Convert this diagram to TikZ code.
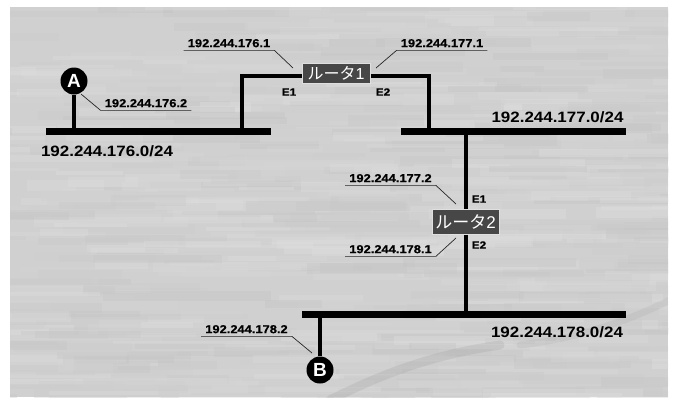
\documentclass[tikz,border=0pt]{standalone}
\usepackage{fontspec}
\newfontfamily\labfont[FakeStretch=1.13]{Liberation Sans Bold}
\newfontfamily\iplabfont[FakeStretch=1.12,FakeBold=0.6]{Liberation Sans Bold}
\newfontfamily\jpfont{Noto Sans CJK JP}
\newfontfamily\digfont{Liberation Sans}
\newfontfamily\hostfont{Liberation Sans Bold}
\definecolor{bgbase}{HTML}{D0D0D0}
\definecolor{boxgrey}{HTML}{474747}
\tikzset{
  bus/.style={line width=7pt},
  wire/.style={line width=4pt},
  leader/.style={line width=0.7pt, black!85},
  iplbl/.style={font=\iplabfont\fontsize{11.5}{12}\selectfont,
    inner xsep=4pt, inner ysep=3pt, text height=8.3pt, text depth=0pt},
  netlbl/.style={font=\labfont\fontsize{15}{16}\selectfont, inner sep=0pt},
  portlbl/.style={font=\iplabfont\fontsize{10.5}{11}\selectfont, inner sep=0pt},
  router/.style={fill=boxgrey, draw=white!88!black, line width=1pt, text=white,
    minimum width=68pt, minimum height=20pt, inner sep=0pt},
  host/.style={circle, fill=black, text=white, minimum size=27pt, inner sep=0pt,
    font=\hostfont\fontsize{19}{19}\selectfont}
}
\begin{document}
\begin{tikzpicture}[x=1pt,y=-1pt]
\useasboundingbox (0,0) rectangle (674,397);
\fill[white] (0,0) rectangle (674,397);

% streaky grey backdrop
\begin{scope}
  \clip (10,7) rectangle (668,397);
  \fill[bgbase] (10,7) rectangle (668,397);
  \pgfmathsetseed{4217}
  \foreach \i in {1,...,700}{
    \pgfmathsetmacro\sx{-60+rnd*740}
    \pgfmathsetmacro\sy{2+rnd*400}
    \pgfmathsetmacro\sw{40+rnd*140}
    \pgfmathsetmacro\sh{3+rnd*8}
    \pgfmathsetmacro\sg{12+rnd*12}
    \fill[black!\sg, opacity=0.35] (\sx,\sy) rectangle ++(\sw,\sh);
  }
  \draw[black, opacity=0.06, line width=9pt, line cap=round]
    (330,400) .. controls (380,375) and (430,355) .. (500,345);
  \draw[black, opacity=0.04, line width=7pt, line cap=round]
    (520,345) .. controls (580,338) and (630,320) .. (670,300);
\end{scope}

% bus segments and taps
\coordinate (b1w) at (46,131.5);   \coordinate (b1e) at (271,131.5);
\coordinate (b2w) at (401,131.5);  \coordinate (b2e) at (626,131.5);
\coordinate (b3w) at (302,314.5);  \coordinate (b3e) at (626,314.5);
\coordinate (tA) at (74,131.5);
\coordinate (t1) at (241.5,131.5);
\coordinate (t2) at (429,131.5);
\coordinate (t3) at (465.5,131.5);
\coordinate (t4) at (465.5,314.5);
\coordinate (tB) at (320,314.5);

% routers and hosts
\node[router] (r1) at (336,73) {\jpfont\fontsize{16}{16}\selectfont ルータ\digfont 1};
\node[router, minimum width=67pt, minimum height=25pt] (r2) at (465.5,221.5)
  {\jpfont\fontsize{17}{17}\selectfont ルータ\digfont 2};
\node[host] (hA) at (74,81) {A};
\node[host] (hB) at (320,370) {B};

% network lines
\draw[bus] (b1w) -- (b1e);
\draw[bus] (b2w) -- (b2e);
\draw[bus] (b3w) -- (b3e);
\draw[wire] (tA) -- (hA);
\draw[wire] (t1) |- ([yshift=-3pt]r1.west);
\draw[wire] ([yshift=-3pt]r1.east) -| (t2);
\draw[wire] (t3) -- (r2.north);
\draw[wire] (r2.south) -- (t4);
\draw[wire] (tB) -- (hB);

% network names
\node[netlbl] (n1) at (107,151) {192.244.176.0/24};
\node[netlbl] (n2) at (557.5,117) {192.244.177.0/24};
\node[netlbl] (n3) at (557,332) {192.244.178.0/24};

% interface names
\node[portlbl] (r1e1) at (289,92) {E1};
\node[portlbl] (r1e2) at (383,92) {E2};
\node[portlbl] (r2e1) at (479,199) {E1};
\node[portlbl] (r2e2) at (479,245) {E2};

% address callouts
\node[iplbl] (a1) at (229,43) {192.244.176.1};
\node[iplbl] (a2) at (442,43) {192.244.177.1};
\node[iplbl] (a3) at (146,103) {192.244.176.2};
\node[iplbl] (a4) at (390.5,178) {192.244.177.2};
\node[iplbl] (a5) at (390.5,249) {192.244.178.1};
\node[iplbl] (a6) at (246.5,329) {192.244.178.2};

\coordinate (p1) at (293,68);
\coordinate (p2) at (376,68);
\coordinate (p3) at (81,94);
\coordinate (p4) at (456,204);
\coordinate (p5) at (456,238);
\coordinate (p6) at (312,353);

\draw[leader] (a1.south west) -- (a1.south east) -- (p1);
\draw[leader] (p2) -- (a2.south west) -- (a2.south east);
\draw[leader] (p3) -- (a3.south west) -- (a3.south east);
\draw[leader] (a4.south west) -- (a4.south east) -- (p4);
\draw[leader] (a5.south west) -- (a5.south east) -- (p5);
\draw[leader] (a6.south west) -- (a6.south east) -- (p6);
\end{tikzpicture}
\end{document}
